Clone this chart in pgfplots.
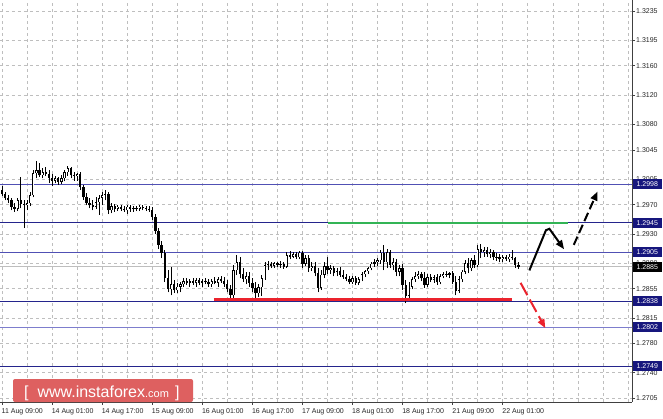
\documentclass[border=0pt]{standalone}
\usepackage{fontspec}
\setmainfont{Liberation Sans}
\usepackage{pgfplots}
\pgfplotsset{compat=1.18}
\usepackage{pgfplotstable}
\usetikzlibrary{arrows.meta}

\definecolor{lvlnavy}{RGB}{36,36,140}
\definecolor{lvlmid}{RGB}{80,80,180}
\definecolor{lvllight}{RGB}{125,125,205}
\definecolor{boxnavy}{RGB}{22,22,125}
\definecolor{gridgray}{RGB}{190,190,190}
\definecolor{supgreen}{RGB}{50,180,85}
\definecolor{resred}{RGB}{235,35,45}
\definecolor{wmred}{RGB}{222,96,96}

% hourly candles, i = bar number
\pgfplotstableread{
i o h l c
0 1.2990 1.2995 1.2982 1.2984
1 1.2984 1.2987 1.2976 1.2979
2 1.2979 1.2983 1.2972 1.2976
3 1.2976 1.2979 1.2962 1.2967
4 1.2967 1.2972 1.2960 1.2964
5 1.2964 1.2979 1.2961 1.2976
6 1.2976 1.3008 1.2965 1.2971
7 1.2971 1.2976 1.2938 1.2969
8 1.2969 1.2976 1.2962 1.2972
9 1.2972 1.2987 1.2968 1.2983
10 1.2983 1.3017 1.2980 1.3013
11 1.3013 1.3030 1.3006 1.3017
12 1.3017 1.3027 1.3008 1.3010
13 1.3010 1.3020 1.3006 1.3014
14 1.3014 1.3021 1.3009 1.3012
15 1.3012 1.3017 1.2999 1.3006
16 1.3006 1.3012 1.2995 1.3003
17 1.3003 1.3009 1.2999 1.3006
18 1.3006 1.3008 1.2997 1.3001
19 1.3001 1.3010 1.2998 1.3006
20 1.3006 1.3017 1.3002 1.3014
21 1.3014 1.3023 1.3009 1.3020
22 1.3020 1.3021 1.3006 1.3010
23 1.3010 1.3014 1.3003 1.3009
24 1.3009 1.3013 1.3003 1.3012
25 1.3012 1.3014 1.2990 1.2994
26 1.2994 1.2997 1.2977 1.2980
27 1.2980 1.2986 1.2969 1.2972
28 1.2972 1.2979 1.2965 1.2969
29 1.2969 1.2976 1.2962 1.2967
30 1.2967 1.2980 1.2964 1.2973
31 1.2973 1.2983 1.2956 1.2979
32 1.2979 1.2987 1.2969 1.2983
33 1.2983 1.2990 1.2976 1.2984
34 1.2984 1.2987 1.2957 1.2962
35 1.2962 1.2972 1.2958 1.2968
36 1.2968 1.2971 1.2960 1.2964
37 1.2964 1.2969 1.2961 1.2967
38 1.2967 1.2969 1.2961 1.2964
39 1.2964 1.2968 1.2960 1.2962
40 1.2962 1.2969 1.2957 1.2967
41 1.2967 1.2969 1.2960 1.2964
42 1.2964 1.2968 1.2960 1.2965
43 1.2965 1.2968 1.2961 1.2964
44 1.2964 1.2969 1.2961 1.2967
45 1.2967 1.2969 1.2962 1.2965
46 1.2965 1.2968 1.2961 1.2964
47 1.2964 1.2968 1.2960 1.2962
48 1.2962 1.2967 1.2949 1.2953
49 1.2953 1.2957 1.2930 1.2934
50 1.2934 1.2938 1.2909 1.2915
51 1.2915 1.2920 1.2897 1.2904
52 1.2904 1.2908 1.2864 1.2869
53 1.2869 1.2880 1.2850 1.2854
54 1.2854 1.2885 1.2846 1.2861
55 1.2861 1.2867 1.2849 1.2853
56 1.2853 1.2863 1.2849 1.2858
57 1.2858 1.2864 1.2850 1.2861
58 1.2861 1.2869 1.2857 1.2865
59 1.2865 1.2869 1.2860 1.2863
60 1.2863 1.2868 1.2858 1.2865
61 1.2865 1.2869 1.2860 1.2863
62 1.2863 1.2869 1.2858 1.2867
63 1.2867 1.2869 1.2860 1.2863
64 1.2863 1.2868 1.2858 1.2865
65 1.2865 1.2869 1.2861 1.2864
66 1.2864 1.2868 1.2858 1.2861
67 1.2861 1.2868 1.2858 1.2865
68 1.2865 1.2871 1.2861 1.2863
69 1.2863 1.2871 1.2858 1.2868
70 1.2868 1.2872 1.2863 1.2865
71 1.2865 1.2871 1.2857 1.2861
72 1.2861 1.2867 1.2850 1.2854
73 1.2854 1.2860 1.2841 1.2846
74 1.2846 1.2887 1.2842 1.2880
75 1.2880 1.2901 1.2874 1.2891
76 1.2891 1.2899 1.2869 1.2875
77 1.2875 1.2883 1.2864 1.2868
78 1.2868 1.2878 1.2861 1.2872
79 1.2872 1.2878 1.2858 1.2863
80 1.2863 1.2869 1.2850 1.2856
81 1.2856 1.2864 1.2842 1.2849
82 1.2849 1.2861 1.2843 1.2857
83 1.2857 1.2874 1.2845 1.2869
84 1.2869 1.2891 1.2867 1.2887
85 1.2887 1.2893 1.2880 1.2889
86 1.2889 1.2891 1.2883 1.2886
87 1.2886 1.2891 1.2883 1.2890
88 1.2890 1.2891 1.2885 1.2887
89 1.2887 1.2893 1.2883 1.2889
90 1.2889 1.2891 1.2882 1.2885
91 1.2885 1.2905 1.2883 1.2901
92 1.2901 1.2906 1.2895 1.2899
93 1.2899 1.2905 1.2897 1.2902
94 1.2902 1.2905 1.2895 1.2898
95 1.2898 1.2906 1.2895 1.2904
96 1.2904 1.2906 1.2883 1.2889
97 1.2889 1.2901 1.2886 1.2897
98 1.2897 1.2901 1.2878 1.2883
99 1.2883 1.2891 1.2879 1.2886
100 1.2886 1.2891 1.2872 1.2876
101 1.2876 1.2883 1.2850 1.2856
102 1.2856 1.2880 1.2853 1.2874
103 1.2874 1.2891 1.2869 1.2886
104 1.2886 1.2898 1.2875 1.2880
105 1.2880 1.2887 1.2875 1.2883
106 1.2883 1.2886 1.2872 1.2876
107 1.2876 1.2883 1.2872 1.2879
108 1.2879 1.2885 1.2871 1.2874
109 1.2874 1.2880 1.2868 1.2871
110 1.2871 1.2875 1.2865 1.2868
111 1.2868 1.2872 1.2861 1.2864
112 1.2864 1.2872 1.2861 1.2869
113 1.2869 1.2872 1.2860 1.2863
114 1.2863 1.2871 1.2860 1.2868
115 1.2868 1.2878 1.2865 1.2875
116 1.2875 1.2880 1.2871 1.2879
117 1.2879 1.2885 1.2875 1.2883
118 1.2883 1.2891 1.2880 1.2889
119 1.2889 1.2895 1.2885 1.2891
120 1.2891 1.2897 1.2886 1.2894
121 1.2894 1.2908 1.2889 1.2904
122 1.2904 1.2915 1.2880 1.2891
123 1.2891 1.2910 1.2883 1.2905
124 1.2905 1.2908 1.2883 1.2887
125 1.2887 1.2897 1.2880 1.2891
126 1.2891 1.2895 1.2872 1.2878
127 1.2878 1.2887 1.2872 1.2883
128 1.2883 1.2889 1.2853 1.2860
129 1.2860 1.2867 1.2835 1.2845
130 1.2845 1.2864 1.2839 1.2858
131 1.2858 1.2871 1.2854 1.2868
132 1.2868 1.2878 1.2864 1.2872
133 1.2872 1.2879 1.2868 1.2875
134 1.2875 1.2878 1.2865 1.2869
135 1.2869 1.2878 1.2856 1.2860
136 1.2860 1.2875 1.2857 1.2871
137 1.2871 1.2875 1.2864 1.2867
138 1.2867 1.2874 1.2863 1.2871
139 1.2871 1.2875 1.2860 1.2864
140 1.2864 1.2875 1.2861 1.2872
141 1.2872 1.2878 1.2869 1.2875
142 1.2875 1.2879 1.2871 1.2874
143 1.2874 1.2878 1.2869 1.2876
144 1.2876 1.2879 1.2861 1.2864
145 1.2864 1.2872 1.2846 1.2852
146 1.2852 1.2872 1.2849 1.2868
147 1.2868 1.2880 1.2864 1.2878
148 1.2878 1.2894 1.2875 1.2890
149 1.2890 1.2897 1.2876 1.2883
150 1.2883 1.2897 1.2879 1.2894
151 1.2894 1.2901 1.2883 1.2887
152 1.2887 1.2915 1.2885 1.2909
153 1.2909 1.2916 1.2897 1.2905
154 1.2905 1.2912 1.2899 1.2908
155 1.2908 1.2912 1.2899 1.2902
156 1.2902 1.2909 1.2897 1.2905
157 1.2905 1.2908 1.2894 1.2898
158 1.2898 1.2904 1.2893 1.2899
159 1.2899 1.2902 1.2891 1.2895
160 1.2895 1.2901 1.2891 1.2898
161 1.2898 1.2901 1.2893 1.2895
162 1.2895 1.2902 1.2891 1.2899
163 1.2899 1.2908 1.2894 1.2897
164 1.2897 1.2899 1.2883 1.2887
165 1.2887 1.2891 1.2882 1.2885
}\candles

\begin{document}
\begin{tikzpicture}
\useasboundingbox (0,0) rectangle (663pt,-419pt);
\fill[white] (0,0) rectangle (663pt,-419pt);
\begin{axis}[
    at={(0pt,0pt)}, anchor=north west,
    scale only axis, width=632pt, height=402pt,
    xmin=-0.64, xmax=201.3,
    ymin=1.2700, ymax=1.3250,
    axis x line*=bottom, axis y line*=right,
    axis line style={black!75, line width=0.8pt},
    tick align=outside, major tick length=3pt, minor tick length=0pt,
    tick style={black!75, line width=0.6pt},
    every tick label/.append style={font=\fontsize{7}{8}\selectfont, text=black!85},
    xtick={0,16,...,160},
    xticklabels={11 Aug 09:00, 14 Aug 01:00, 14 Aug 17:00, 15 Aug 09:00, 16 Aug 01:00, 16 Aug 17:00, 17 Aug 09:00, 18 Aug 01:00, 18 Aug 17:00, 21 Aug 09:00, 22 Aug 01:00},
    xticklabel style={anchor=north west, xshift=-1.5pt, yshift=-2pt, inner sep=1pt},
    minor x tick num=1,
    extra x ticks={168,176,184,192,200},
    extra x tick labels={},
    extra x tick style={major tick length=0pt, grid=major},
    ytick={1.2705,1.2740,1.2780,1.2815,1.2855,1.2890,1.2930,1.2970,1.3005,1.3045,1.3080,1.3120,1.3160,1.3195,1.3235},
    yticklabels={1.2705,1.2740,1.2780,1.2815,1.2855,1.2890,1.2930,1.2970,1.3005,1.3045,1.3080,1.3120,1.3160,1.3195,1.3235},
    yticklabel style={inner sep=1pt},
    xmajorgrids, xminorgrids, ymajorgrids,
    grid style={gridgray, dash pattern=on 3pt off 3pt, line width=0.6pt},
    minor grid style={gridgray, dash pattern=on 3pt off 3pt, line width=0.6pt},
    candle/.style={draw=none, mark=none, forget plot,
        error bars/.cd, y dir=plus, y explicit, error mark=none},
]

% price levels
\addplot[lvlmid, line width=1.1pt] coordinates {(-1,1.2998) (202,1.2998)};
\addplot[lvlnavy, line width=1.1pt] coordinates {(-1,1.2945) (202,1.2945)};
\addplot[lvlmid, line width=1.1pt] coordinates {(-1,1.2905) (202,1.2905)};
\addplot[lvlnavy, line width=1.1pt] coordinates {(-1,1.2838) (202,1.2838)};
\addplot[lvllight, line width=1.8pt] coordinates {(-1,1.2802) (202,1.2802)};
\addplot[lvlnavy, line width=1.1pt] coordinates {(-1,1.2749) (202,1.2749)};
\addplot[gridgray, line width=0.9pt] coordinates {(-1,1.2885) (202,1.2885)};

% wicks
\addplot[candle, error bar style={draw=black, solid, line width=0.7pt}]
    table[x=i, y=l, y error plus expr=\thisrow{h}-\thisrow{l}] {\candles};
% rising bodies: outline, then white inside
\addplot[restrict expr to domain={\thisrow{c}-\thisrow{o}}{0:1},
    candle, error bar style={draw=black, solid, line width=2.3pt}]
    table[x=i, y=o, y error plus expr=\thisrow{c}-\thisrow{o}] {\candles};
\addplot[restrict expr to domain={\thisrow{c}-\thisrow{o}}{0.00025:1},
    candle, error bar style={draw=white, solid, line width=0.9pt}]
    table[x=i, y expr=\thisrow{o}+0.00008, y error plus expr=\thisrow{c}-\thisrow{o}-0.00016] {\candles};
% falling bodies
\addplot[restrict expr to domain={\thisrow{o}-\thisrow{c}}{0:1},
    candle, error bar style={draw=black, solid, line width=2.3pt}]
    table[x=i, y=c, y error plus expr=\thisrow{o}-\thisrow{c}] {\candles};

% support / resistance segments
\addplot[supgreen, line width=2.6pt] coordinates {(104.2,1.2945) (180.8,1.2945)};
\addplot[resred, line width=2.6pt] coordinates {(67.7,1.2840) (162.9,1.2840)};

% scenario arrows
\addplot[black, line width=2pt, -{Triangle[length=9pt,width=7pt]}]
    coordinates {(168.5,1.2880) (173.8,1.2935) (174.9,1.2937) (179.6,1.2909)};
\addplot[black, line width=2pt, dash pattern=on 9pt off 4pt, -{Triangle[length=9pt,width=7pt]}]
    coordinates {(182.7,1.2915) (190.3,1.2988)};
\addplot[resred, line width=2pt, dash pattern=on 14pt off 5pt, -{Triangle[length=9pt,width=7pt]}]
    coordinates {(165.7,1.2863) (173.6,1.2801)};

\coordinate (q2998) at (axis cs:201.3,1.2998);
\coordinate (q2945) at (axis cs:201.3,1.2945);
\coordinate (q2905) at (axis cs:201.3,1.2905);
\coordinate (q2885) at (axis cs:201.3,1.2885);
\coordinate (q2838) at (axis cs:201.3,1.2838);
\coordinate (q2802) at (axis cs:201.3,1.2802);
\coordinate (q2749) at (axis cs:201.3,1.2749);
\end{axis}

\tikzset{lvlbox/.style={anchor=west, xshift=0.6pt, inner sep=0pt, minimum width=29pt, minimum height=10pt, text=white, font=\fontsize{7}{8}\selectfont}}
\node[lvlbox, fill=boxnavy] at (q2998) {1.2998};
\node[lvlbox, fill=boxnavy] at (q2945) {1.2945};
\node[lvlbox, fill=boxnavy] at (q2905) {1.2905};
\node[lvlbox, fill=black] at (q2885) {1.2885};
\node[lvlbox, fill=boxnavy] at (q2838) {1.2838};
\node[lvlbox, fill=boxnavy] at (q2802) {1.2802};
\node[lvlbox, fill=boxnavy] at (q2749) {1.2749};

% watermark
\fill[wmred, rounded corners=2pt] (13pt,-379pt) rectangle (193pt,-402pt);
\node[text=white, anchor=base west, inner sep=0pt] at (24pt,-397pt)
    {\fontsize{16}{17}\selectfont[\ \ www.instaforex\fontsize{11}{12}\selectfont.com\ \ \fontsize{16}{17}\selectfont]};
\end{tikzpicture}
\end{document}
